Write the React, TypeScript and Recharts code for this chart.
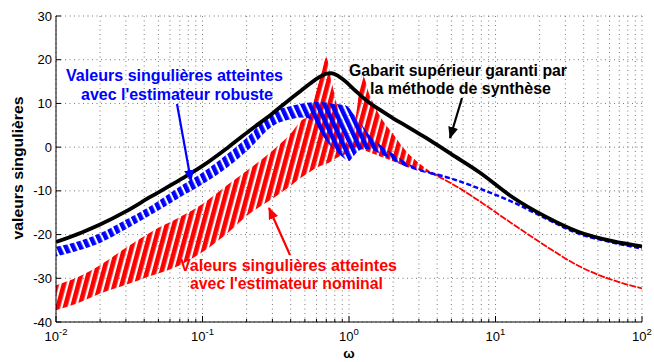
import { Area, CartesianGrid, ComposedChart, Line, XAxis, YAxis } from "recharts";

// pulsations (rad/s)
const omega = [
  0.01, 0.015, 0.02, 0.03, 0.044, 0.07, 0.1, 0.15, 0.21, 0.3, 0.39, 0.47, 0.54, 0.6, 0.65, 0.7,
  0.76, 0.85, 0.95, 1.0, 1.05, 1.15, 1.23, 1.4, 1.6, 2, 2.5, 3, 3.6, 5, 7.8, 13, 22, 37, 63, 100,
];

// gabarit supérieur (dB)
const gabarit = [
  -21.7, -19.5, -17.7, -14.7, -11.4, -7.5, -4.3, 0, 3.8, 7.7, 10.8, 12.9, 14.5, 15.6, 16.3, 16.8,
  16.9, 16.2, 15, 14.3, 13.6, 12.4, 11.5, 10, 8.7, 6.6, 4.7, 3.1, 1.5, -1.6, -5.8, -11.4, -15.9,
  -19.4, -21.5, -22.7,
];

// enveloppe de l'estimateur robuste
const robusteBas = [
  -25, -23.4, -21.9, -18.8, -15.6, -11.5, -8.5, -4.5, -0.3, 4.8, 6.3, 6.8, 6.5, 5, 3, 1.5, 0,
  -1.5, -2.8, -3.2, -2.5, -1, -0.5, -0.5, -1.4, -3, -4.6, -5.5, -6.2, -7.2, -9.5, -12.5, -16.3,
  -19.8, -21.8, -23.2,
];
const robusteHaut = [
  -22.8, -21.3, -19.7, -16.6, -13.5, -9, -5.8, -1.4, 2.8, 8, 9.3, 9.9, 10.2, 10.4, 10.3, 10.2, 10,
  9.8, 9.5, 9, 8, 6.5, 5, 2.5, 0.8, -1.5, -3.6, -4.9, -5.7, -7.2, -9.5, -12.5, -16.3, -19.8,
  -21.8, -23.2,
];

// enveloppe de l'estimateur nominal
const nominalBas = [
  -37.3, -35.3, -33.5, -31.5, -29.5, -27, -24, -19.5, -15.2, -11.8, -9.1, -7, -5.7, -4.7, -4.2,
  -3.8, -3.2, -2.2, -1.6, -1.5, -0.5, 0, -0.5, -1.3, -2, -3.2, -4.5, -5.3, -6.0, -8.3, -12.4,
  -17.5, -22.6, -27.2, -30.4, -32.3,
];
const nominalHaut = [
  -31.6, -29.3, -27, -23, -19.5, -16, -13, -8.5, -4.9, -0.8, 2.7, 6, 7.5, 13, 17, 20.5, 15, 8,
  1.5, 0.5, 1.6, 10.3, 16.5, 11.5, 7.5, 3, -1.2, -3.6, -5.6, -8.3, -12.4, -17.5, -22.6, -27.2,
  -30.4, -32.3,
];

// hautes fréquences : les familles se réduisent à une seule courbe
const queueOmega = [3.6, 5, 7.8, 13, 22, 37, 63, 100];
const robusteQueue = [-5.9, -7.2, -9.5, -12.5, -16.3, -19.8, -21.8, -23.2];
const nominalQueue = [-5.8, -8.3, -12.4, -17.5, -22.6, -27.2, -30.4, -32.3];

const yTicks = [-40, -30, -20, -10, 0, 10, 20, 30];
const decades = [0.01, 0.1, 1, 10];
const xTicks = [
  ...decades.flatMap((d) => [1, 2, 3, 4, 5, 6, 7, 8, 9].map((m) => +(d * m).toPrecision(3))),
  100,
];

const data = omega.map((w, i) => {
  const k = queueOmega.indexOf(w);
  return {
    w,
    gabarit: gabarit[i],
    robuste: [robusteBas[i], robusteHaut[i]],
    nominal: [nominalBas[i], nominalHaut[i]],
    robusteQueue: k >= 0 ? robusteQueue[k] : null,
    nominalQueue: k >= 0 ? nominalQueue[k] : null,
  };
});

const FONT = "'Liberation Sans', Arial, Helvetica, sans-serif";

function XTick(props: any) {
  const { x, y, payload } = props;
  const v = payload.value as number;
  const exp = Math.round(Math.log10(v));
  const major = Math.abs(Math.log10(v) - exp) < 1e-6;
  return (
    <g>
      <line x1={x} x2={x} y1={y} y2={y - (major ? 6 : 3)} stroke="#000" />
      {major && (
        <text x={x} y={y + 19} textAnchor="middle" fontFamily={FONT} fontSize={13} fill="#000">
          10
          <tspan fontSize={9.5} dy={-6}>
            {exp}
          </tspan>
        </text>
      )}
    </g>
  );
}

function YTick(props: any) {
  const { x, y, payload } = props;
  return (
    <g>
      <line x1={x} x2={x + 5} y1={y} y2={y} stroke="#000" />
      <text x={x - 4} y={y + 4.5} textAnchor="end" fontFamily={FONT} fontSize={13} fill="#000">
        {payload.value}
      </text>
    </g>
  );
}

export default function App() {
  return (
    <div style={{ position: "fixed", left: 0, top: 0, width: 654, height: 362, background: "#fff" }}>
      <ComposedChart width={654} height={362} data={data} margin={{ top: 16, right: 12, bottom: 0, left: 0 }}>
        <defs>
          <pattern id="hachureRouge" patternUnits="userSpaceOnUse" width={7} height={10} patternTransform="rotate(15)">
            <rect x={0} y={0} width={4.7} height={10} fill="#ff0000" />
          </pattern>
          <pattern id="hachureBleue" patternUnits="userSpaceOnUse" width={6.7} height={10} patternTransform="rotate(-25)">
            <rect x={0} y={0} width={4.5} height={10} fill="#0000ff" />
          </pattern>
        </defs>
        <CartesianGrid stroke="#777" strokeDasharray="1 3.5" />
        <XAxis
          dataKey="w"
          type="number"
          scale="log"
          domain={[0.01, 100]}
          allowDataOverflow
          ticks={xTicks}
          interval={0}
          tick={<XTick />}
          tickLine={false}
          tickSize={0}
          tickMargin={0}
          height={40}
          axisLine={{ stroke: "#000" }}
        />
        <YAxis
          type="number"
          domain={[-40, 30]}
          ticks={yTicks}
          interval={0}
          tick={<YTick />}
          tickLine={false}
          tickSize={0}
          tickMargin={0}
          width={56}
          axisLine={{ stroke: "#000" }}
        />
        <Area
          dataKey="nominal"
          type="monotoneX"
          stroke="none"
          fill="url(#hachureRouge)"
          fillOpacity={1}
          isAnimationActive={false}
          dot={false}
          activeDot={false}
        />
        <Area
          dataKey="robuste"
          type="monotoneX"
          stroke="none"
          fill="url(#hachureBleue)"
          fillOpacity={1}
          isAnimationActive={false}
          dot={false}
          activeDot={false}
        />
        <Line
          dataKey="nominalQueue"
          type="monotoneX"
          stroke="#ff0000"
          strokeWidth={1.8}
          strokeDasharray="7 1.2"
          connectNulls
          dot={false}
          activeDot={false}
          isAnimationActive={false}
        />
        <Line
          dataKey="robusteQueue"
          type="monotoneX"
          stroke="#0000ff"
          strokeWidth={2.5}
          strokeDasharray="5 2.5"
          connectNulls
          dot={false}
          activeDot={false}
          isAnimationActive={false}
        />
        <Line
          dataKey="gabarit"
          type="monotoneX"
          stroke="#000"
          strokeWidth={3.8}
          dot={false}
          activeDot={false}
          isAnimationActive={false}
        />
      </ComposedChart>
      <svg
        width={654}
        height={362}
        style={{ position: "absolute", left: 0, top: 0, pointerEvents: "none" }}
        fontFamily={FONT}
        fontWeight="bold"
      >
        <defs>
          {["#0000ff", "#000000", "#ff0000"].map((c) => (
            <marker
              key={c}
              id={"fleche" + c.slice(1)}
              markerUnits="userSpaceOnUse"
              markerWidth={12}
              markerHeight={10}
              refX={11}
              refY={5}
              orient="auto"
            >
              <path d="M0,0 L12,5 L0,10 z" fill={c} />
            </marker>
          ))}
        </defs>
        <text x={18} y={168} transform="rotate(-90 18 168)" textAnchor="middle" fontSize={14} fill="#000" textLength={143} lengthAdjust="spacingAndGlyphs" dy={5}>
          valeurs singulières
        </text>
        <text x={349} y={358} textAnchor="middle" fontSize={13.5} fill="#000">
          ω
        </text>

        <text x={174.5} y={81} textAnchor="middle" fontSize={16} fill="#0000ff" textLength={217} lengthAdjust="spacingAndGlyphs">
          Valeurs singulières atteintes
        </text>
        <text x={177} y={99.5} textAnchor="middle" fontSize={16} fill="#0000ff" textLength={192} lengthAdjust="spacingAndGlyphs">
          avec l'estimateur robuste
        </text>
        <line x1={177} y1={104} x2={191} y2={181} stroke="#0000ff" strokeWidth={2.2} markerEnd="url(#fleche0000ff)" />

        <text x={458} y={76} textAnchor="middle" fontSize={16} fill="#000" textLength={218} lengthAdjust="spacingAndGlyphs">
          Gabarit supérieur garanti par
        </text>
        <text x={460.5} y={94} textAnchor="middle" fontSize={16} fill="#000" textLength={181} lengthAdjust="spacingAndGlyphs">
          la méthode de synthèse
        </text>
        <line x1={462} y1={98} x2={450} y2={138} stroke="#000" strokeWidth={2.2} markerEnd="url(#fleche000000)" />

        <text x={288.5} y={271} textAnchor="middle" fontSize={16} fill="#ff0000" textLength={217} lengthAdjust="spacingAndGlyphs">
          Valeurs singulières atteintes
        </text>
        <text x={286.5} y={289} textAnchor="middle" fontSize={16} fill="#ff0000" textLength={193} lengthAdjust="spacingAndGlyphs">
          avec l'estimateur nominal
        </text>
        <line x1={290} y1={255} x2={269} y2={208} stroke="#ff0000" strokeWidth={2.2} markerEnd="url(#flecheff0000)" />
      </svg>
    </div>
  );
}
